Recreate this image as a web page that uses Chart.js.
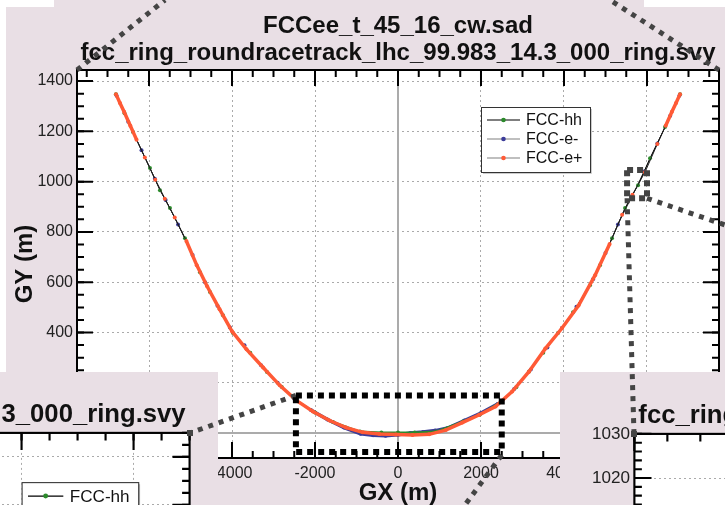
<!DOCTYPE html>
<html><head><meta charset="utf-8">
<script src="https://cdn.jsdelivr.net/npm/chart.js@4.4.1/dist/chart.umd.min.js"></script>
<style>
html,body{margin:0;padding:0;background:#fff;width:725px;height:505px;overflow:hidden;position:relative}
.pink{position:absolute;background:#e9dfe5}
#main{position:absolute;left:0;top:0}
.panel{position:absolute;overflow:hidden;background:#e9dfe5}
.panel canvas{position:absolute}
#overlay{position:absolute;left:0;top:0;pointer-events:none}
</style></head><body>
<div class="pink" style="left:6px;top:7px;width:719px;height:498px"></div>
<div class="pink" style="left:54px;top:0;width:590px;height:7px"></div>
<canvas id="main"></canvas>
<div class="panel" id="pL" style="left:0;top:372px;width:218px;height:133px"><canvas id="insetL"></canvas></div>
<div class="panel" id="pR" style="left:560px;top:372px;width:165px;height:133px"><canvas id="insetR"></canvas></div>
<canvas id="overlay" width="725" height="505"></canvas>
<script>
// ---------------- data ----------------
const titleLines = ['FCCee_t_45_16_cw.sad', 'fcc_ring_roundracetrack_lhc_99.983_14.3_000_ring.svy'];
const xTitle = 'GX (m)';
const yTitle = 'GY (m)';
const seriesNames = ['FCC-hh', 'FCC-e-', 'FCC-e+'];

const hhX = [-6796,-6590,-6386,-5977,-5736,-5495,-5133,-4772,-4531,-4218,-3976,-3560,-3157,-2800,-2458,-2000,-1566,-915,-400,0,400,915,1566,1976,2506,2850,3157,3500,3856,4218,4627,4868,5157,5471,5784,6073,6435,6796];
const hhY = [1348,1272,1197,1054,966,895,775,640,561,469,398,320,243,183,131,82,44,6,2,2,2,6,46,74,127,182,245,320,398,481,588,668,775,895,986,1093,1217,1348];

const emX = [-6780,-6500,-6180,-5860,-5600,-5300,-4950,-4650,-4350,-4050,-3700,-3300,-2900,-2500,-2100,-1700,-1300,-900,-600,-300,0,300,600,900,1200,1600,2000,2400,2800,3200,3600,3950,4300,4700,5000,5300,5640,5930,6250,6560,6780];
const emY = [1342,1238,1125,1012,927,830,708,600,506,420,349,270,200,137,92,54,22,-3,-9,-11,-7,0,4,10,20,50,80,116,175,253,340,418,502,612,716,830,942,1040,1152,1262,1342];

const epX = [-6796,-6700,-6600,-6450,-6300,-6100,-5850,-5620,-5380,-5100,-4850,-4600,-4300,-4000,-3650,-3250,-2850,-2450,-2050,-1650,-1250,-850,-450,-50,350,750,1150,1550,1950,2350,2750,3150,3550,3950,4350,4750,5100,5400,5650,5950,6250,6450,6600,6700,6796];
const epY = [1348,1313,1278,1222,1167,1096,1008,932,857,764,668,584,493,405,333,261,190,130,86,50,22,3,-4,-6,-8,-5,12,42,72,106,165,243,336,417,507,628,752,868,948,1037,1150,1222,1278,1313,1348];

// main view axes
const mainXRange = [-7735, 7735];
const mainYRange = [-99, 1444];
const mainXTicks = [-6000,-4000,-2000,0,2000,4000,6000];
const mainXTickLabels = ['-6000','-4000','-2000','0','2000','4000','6000'];
const mainYTicks = [0,200,400,600,800,1000,1200,1400];
const mainYTickLabels = ['0','200','400','600','800','1000','1200','1400'];

// left zoom inset
const leftXRange = [-3635, 2500];
const leftYRange = [585, 1450];
const leftXTicks = [-3000,-2000,-1000,0,1000,2000];
const leftXTickLabels = ['-3000','-2000','-1000','0','1000','2000'];
const leftYTicks = [600,700,800,900,1000,1100,1200,1300,1400];
const leftYTickLabels = ['600','700','800','900','1000','1100','1200','1300','1400'];

// right zoom inset
const rightXRange = [5300, 5821];
const rightYRange = [936, 1030];
const rightXTicks = [5300,5400,5500,5600,5700,5800];
const rightXTickLabels = ['5300','5400','5500','5600','5700','5800'];
const rightYTicks = [940,950,960,970,980,990,1000,1010,1020,1030];
const rightYTickLabels = ['940','950','960','970','980','990','1000','1010','1020','1030'];

// zoom boxes marked on the main view (data units)
const boxAX = [-2460, 2500], boxAY = [-75, 150];
const boxBX = [5520, 6000], boxBY = [934, 1046];

// ---------------- styling ----------------
const FONT = '"Liberation Sans", Arial, Helvetica, sans-serif';
// thick: style used where the survey points are dense (heavy coloured band)
const STYLES = [
  {dot:'#2b8a2b', legendLine:'#000000', thin:'#000000', thick:'#2b8a2b', thickW:2, band:[-1e9, 110], order:1},
  {dot:'#3b3b99', legendLine:'#808080', thin:'#555555', thick:'#3b3b99', thickW:3.5, band:[-1e9, 110], order:2},
  {dot:'#ff5a36', legendLine:'#808080', thin:'#222222', thick:'#ff5a36', thickW:3.5, band:[-1e9, 790], band2:[1190, 1e9], order:0}
];
const SERIES_DATA = [[hhX, hhY], [emX, emY], [epX, epY]];

const decorPlugin = {
  id: 'decor',
  beforeDraw(chart) {
    const {ctx, chartArea: a} = chart;
    ctx.save(); ctx.fillStyle = '#ffffff';
    ctx.fillRect(a.left, a.top, a.right - a.left, a.bottom - a.top);
    ctx.restore();
  },
  beforeDatasetsDraw(chart) {
    const {ctx, chartArea: a, scales} = chart;
    const s = chart.options.plugins.decor.s;
    ctx.save();
    ctx.strokeStyle = '#ababab'; ctx.lineWidth = 2 * s;
    const x0 = scales.x.getPixelForValue(0), y0 = scales.y.getPixelForValue(0);
    if (x0 > a.left && x0 < a.right) { ctx.beginPath(); ctx.moveTo(x0, a.top); ctx.lineTo(x0, a.bottom); ctx.stroke(); }
    if (y0 > a.top && y0 < a.bottom) { ctx.beginPath(); ctx.moveTo(a.left, y0); ctx.lineTo(a.right, y0); ctx.stroke(); }
    ctx.restore();
  },
  afterDatasetsDraw(chart) {
    const {ctx, chartArea: a, scales} = chart;
    const o = chart.options.plugins.decor;
    const s = o.s;
    ctx.save();
    ctx.strokeStyle = '#000'; ctx.lineWidth = 2 * s;
    const majL = 16 * s, minL = 7 * s;
    const drawX = (v, len) => {
      const p = scales.x.getPixelForValue(v);
      ctx.beginPath(); ctx.moveTo(p, a.top); ctx.lineTo(p, a.top + len);
      ctx.moveTo(p, a.bottom); ctx.lineTo(p, a.bottom - len); ctx.stroke();
    };
    const drawY = (v, len) => {
      const p = scales.y.getPixelForValue(v);
      ctx.beginPath(); ctx.moveTo(a.left, p); ctx.lineTo(a.left + len, p);
      ctx.moveTo(a.right, p); ctx.lineTo(a.right - len, p); ctx.stroke();
    };
    for (let v = Math.ceil(scales.x.min / o.xMinor) * o.xMinor; v <= scales.x.max; v += o.xMinor) drawX(v, minL);
    for (let v = Math.ceil(scales.y.min / o.yMinor) * o.yMinor; v <= scales.y.max; v += o.yMinor) drawY(v, minL);
    scales.x.ticks.forEach(t => drawX(t.value, majL));
    scales.y.ticks.forEach(t => drawY(t.value, majL));
    ctx.strokeRect(a.left, a.top, a.right - a.left, a.bottom - a.top);
    // legend
    const L = o.legend;
    const lx = a.right - L.dx * s, ly = a.top + L.dy * s, lw = 109 * s, lh = 65 * s;
    ctx.fillStyle = '#fff'; ctx.fillRect(lx, ly, lw, lh);
    ctx.strokeStyle = '#bbb'; ctx.lineWidth = 1.5 * s;
    ctx.beginPath(); ctx.moveTo(lx + 2 * s, ly + lh + 1 * s); ctx.lineTo(lx + lw + 1 * s, ly + lh + 1 * s); ctx.lineTo(lx + lw + 1 * s, ly + 2 * s); ctx.stroke();
    ctx.strokeStyle = '#333'; ctx.lineWidth = 1 * s;
    ctx.strokeRect(lx + 0.5, ly + 0.5, lw, lh);
    ctx.font = (16 * s) + 'px ' + FONT; ctx.textBaseline = 'middle'; ctx.textAlign = 'left';
    chart.data.datasets.forEach((d, i) => {
      const st = STYLES[i];
      const yy = ly + (13 + 19 * i) * s;
      ctx.strokeStyle = st.legendLine; ctx.lineWidth = 1.2 * s;
      ctx.beginPath(); ctx.moveTo(lx + 6 * s, yy); ctx.lineTo(lx + 39 * s, yy); ctx.stroke();
      ctx.fillStyle = st.dot; ctx.beginPath(); ctx.arc(lx + 22.5 * s, yy, 2.3 * s, 0, Math.PI * 2); ctx.fill();
      ctx.fillStyle = '#111'; ctx.fillText(d.label, lx + 45 * s, yy + 1 * s);
    });
    ctx.restore();
  }
};

function makeChart(id, s, cfg) {
  const canvas = document.getElementById(id);
  canvas.width = Math.round(725 * s); canvas.height = Math.round(505 * s);
  canvas.style.width = canvas.width + 'px'; canvas.style.height = canvas.height + 'px';
  const datasets = seriesNames.map((name, i) => {
    const st = STYLES[i];
    const [xs, ys] = SERIES_DATA[i];
    const inBand = m => (m >= st.band[0] && m <= st.band[1]) || (st.band2 && m >= st.band2[0] && m <= st.band2[1]);
    const dense = c => inBand((c.p0.parsed.y + c.p1.parsed.y) / 2);
    return {
      label: name,
      data: xs.map((x, k) => ({x, y: ys[k]})),
      showLine: true, tension: 0, order: st.order,
      borderColor: st.thin, borderWidth: 1 * s,
      segment: {
        borderColor: c => dense(c) ? st.thick : st.thin,
        borderWidth: c => (dense(c) ? st.thickW : 1) * s
      },
      pointRadius: 2 * s, pointBorderWidth: 0, pointBackgroundColor: st.dot, pointHoverRadius: 0
    };
  });
  const labelMap = (vals, labs) => (v) => { const k = vals.indexOf(v); return k >= 0 ? labs[k] : ''; };
  const gridColor = ctx => (ctx.tick && ctx.tick.value === 0) ? 'rgba(0,0,0,0)' : '#aaaaaa';
  return new Chart(canvas, {
    type: 'scatter',
    data: {datasets},
    plugins: [decorPlugin],
    options: {
      responsive: false, animation: false, events: [],
      layout: {padding: {left: 0, right: 6 * s, top: 0, bottom: 0}},
      plugins: {
        legend: {display: false}, tooltip: {enabled: false},
        title: {display: true, fullSize: false, text: titleLines, color: '#111',
          font: {family: FONT, size: 24 * s, weight: 'bold', lineHeight: 1.125},
          padding: {top: 13 * s, bottom: 3 * s}},
        decor: {s, xMinor: cfg.xMinor, yMinor: cfg.yMinor, legend: cfg.legend}
      },
      scales: {
        x: {type: 'linear', position: 'bottom', min: cfg.xRange[0], max: cfg.xRange[1],
          afterBuildTicks: sc => { sc.ticks = cfg.xTicks.map(v => ({value: v})); },
          afterFit: sc => { sc.height = 47 * s; },
          ticks: {callback: labelMap(cfg.xTicks, cfg.xLabels), font: {family: FONT, size: 16 * s}, color: '#222', padding: 6 * s, maxRotation: 0, autoSkip: false},
          grid: {color: gridColor, lineWidth: 1, drawTicks: false},
          border: {display: false, dash: [2, 3]},
          title: {display: true, text: xTitle, color: '#111', font: {family: FONT, size: 24 * s, weight: 'bold', lineHeight: 1}, padding: {top: 0, bottom: 0}}
        },
        y: {type: 'linear', position: 'left', min: cfg.yRange[0], max: cfg.yRange[1],
          afterBuildTicks: sc => { sc.ticks = cfg.yTicks.map(v => ({value: v})); },
          afterFit: sc => { sc.width = 77 * s; },
          ticks: {callback: labelMap(cfg.yTicks, cfg.yLabels), font: {family: FONT, size: 16 * s}, color: '#222', padding: 4 * s, autoSkip: false},
          grid: {color: gridColor, lineWidth: 1, drawTicks: false},
          border: {display: false, dash: [2, 3]},
          title: {display: true, text: yTitle, color: '#111', font: {family: FONT, size: 24 * s, weight: 'bold', lineHeight: 1}, padding: {top: 13 * s, bottom: 0}}
        }
      }
    }
  });
}

const mainChart = makeChart('main', 1, {xRange: mainXRange, yRange: mainYRange, xTicks: mainXTicks, xLabels: mainXTickLabels, yTicks: mainYTicks, yLabels: mainYTickLabels, xMinor: 500, yMinor: 50, legend: {dx: 238, dy: 37}});
const S = 1.07;
const leftChart = makeChart('insetL', S, {xRange: leftXRange, yRange: leftYRange, xTicks: leftXTicks, xLabels: leftXTickLabels, yTicks: leftYTicks, yLabels: leftYTickLabels, xMinor: 250, yMinor: 25, legend: {dx: 157, dy: 46}});
const rightChart = makeChart('insetR', S, {xRange: rightXRange, yRange: rightYRange, xTicks: rightXTicks, xLabels: rightXTickLabels, yTicks: rightYTicks, yLabels: rightYTickLabels, xMinor: 25, yMinor: 2, legend: {dx: 157, dy: 46}});

// place insets so their plot corners sit at the ends of the connectors
const pL = {x: 0, y: 372}, pR = {x: 560, y: 372};
const cornerL = {x: 190, y: 433}, cornerR = {x: 634, y: 434};
const cL = document.getElementById('insetL'), cR = document.getElementById('insetR');
cL.style.left = (cornerL.x - pL.x - leftChart.chartArea.right) + 'px';
cL.style.top = (cornerL.y - pL.y - leftChart.chartArea.top) + 'px';
cR.style.left = (cornerR.x - pR.x - rightChart.chartArea.left) + 'px';
cR.style.top = (cornerR.y - pR.y - rightChart.chartArea.top) + 'px';

// connectors
const ov = document.getElementById('overlay').getContext('2d');
function dotted(pts, color, w, dash, close) {
  ov.save(); ov.strokeStyle = color; ov.lineWidth = w; ov.setLineDash(dash); ov.lineCap = 'butt';
  ov.beginPath(); ov.moveTo(pts[0][0], pts[0][1]);
  for (let i = 1; i < pts.length; i++) ov.lineTo(pts[i][0], pts[i][1]);
  if (close) ov.closePath();
  ov.stroke(); ov.restore();
}
const mx = v => mainChart.scales.x.getPixelForValue(v), my = v => mainChart.scales.y.getPixelForValue(v);
const A = mainChart.chartArea;
const ax0 = mx(boxAX[0]), ax1 = mx(boxAX[1]), ay0 = my(boxAY[1]), ay1 = my(boxAY[0]);
const bx0 = mx(boxBX[0]), bx1 = mx(boxBX[1]), by0 = my(boxBY[1]), by1 = my(boxBY[0]);
const GRAY = '#444444';
dotted([[A.left, A.top], [165, 0]], GRAY, 5, [5, 6]);
dotted([[A.right, A.top], [610, 0]], GRAY, 5, [5, 6]);
dotted([[ax0, ay0], [cornerL.x, cornerL.y]], GRAY, 5, [5, 6]);
dotted([[ax1, ay1 + 3], [465, 505]], GRAY, 5, [5, 6]);
dotted([[bx0, by1], [cornerR.x, cornerR.y]], GRAY, 5, [5, 6]);
dotted([[bx1, by1], [725, 225]], GRAY, 5, [5, 6]);
dotted([[bx0, by0], [bx1, by0], [bx1, by1], [bx0, by1]], GRAY, 6, [6, 4], true);
dotted([[ax0, ay0], [ax1, ay0], [ax1, ay1], [ax0, ay1]], '#000000', 6, [6, 5], true);
ov.fillStyle = GRAY;
ov.fillRect(cornerL.x - 3, cornerL.y - 3, 6, 6);
ov.fillRect(cornerR.x - 3, cornerR.y - 3, 6, 6);
</script>
</body></html>
